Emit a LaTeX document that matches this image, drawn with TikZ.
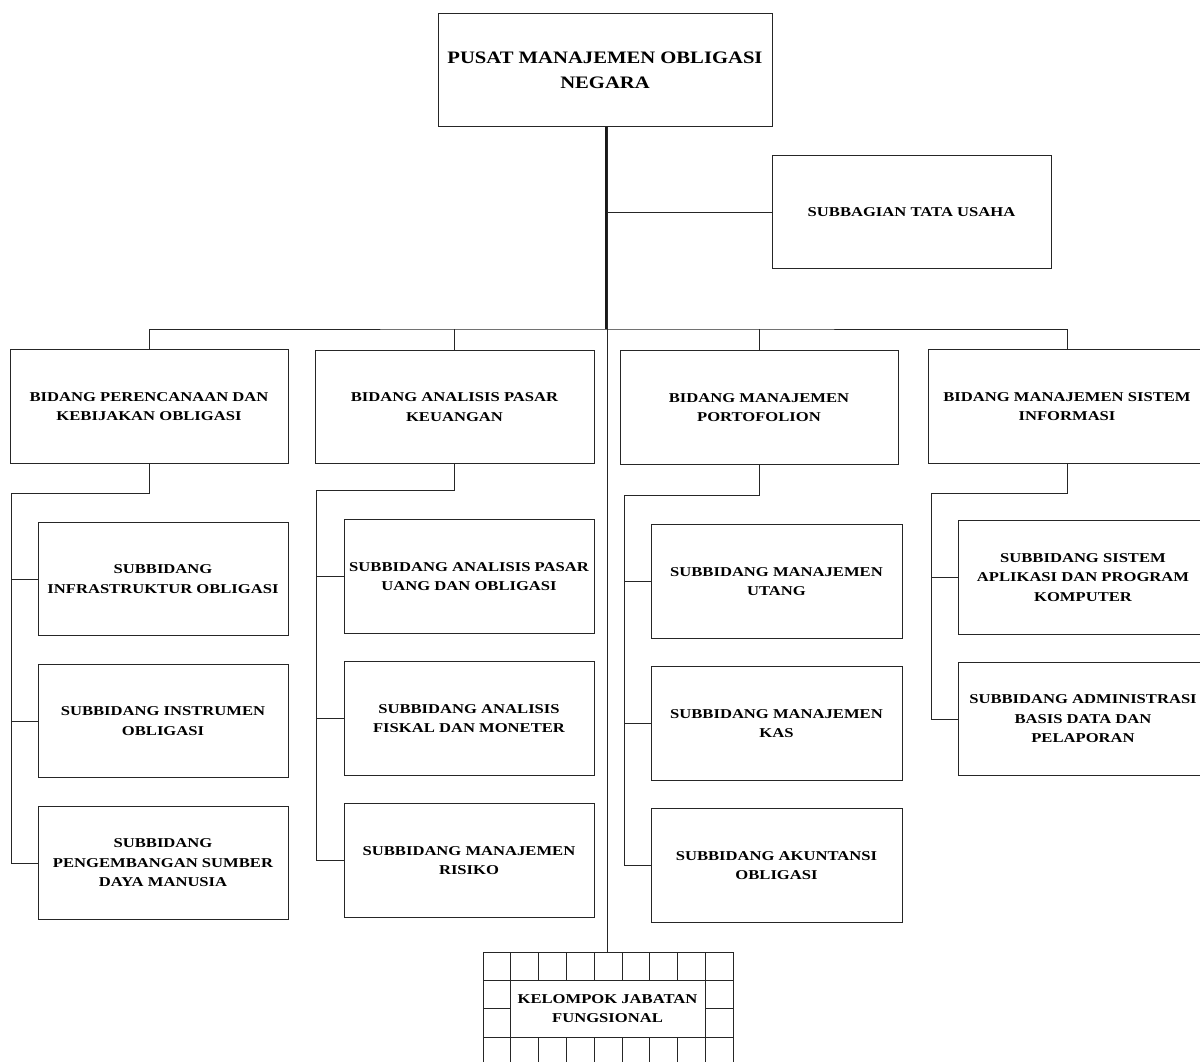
\documentclass[tikz,border=0pt]{standalone}
\usepackage{fontspec}
\newfontfamily\orgfont[FakeStretch=1.23]{Liberation Serif}
\newfontfamily\orgtitlefont[FakeStretch=1.18]{Liberation Serif}
\tikzset{
  orgbox/.style={draw=black!85, line width=0.9pt, rectangle, inner sep=0pt, align=center,
    minimum width=#1, minimum height=113.5,
    font=\orgfont\bfseries\fontsize{13.5}{19.5}\selectfont},
  titlebox/.style={orgbox=334, font=\orgtitlefont\bfseries\fontsize{17.5}{25}\selectfont},
  conn/.style={draw=black!85, line width=0.8pt},
  trunk/.style={draw=black!90, line width=1.4pt},
  gridline/.style={draw=black!85, line width=0.9pt}
}
\begin{document}
\begin{tikzpicture}[x=1pt,y=-1pt]
\useasboundingbox (0,0) rectangle (1200,1061);
\clip (0,0) rectangle (1200,1061);
% top level
\node[titlebox] (top) at (605,70) {PUSAT MANAJEMEN OBLIGASI\\NEGARA};
\node[orgbox=279] (tu) at (911.5,212) {SUBBAGIAN TATA USAHA};
% bidang
\node[orgbox=278] (b1) at (149,406.5) {BIDANG PERENCANAAN DAN\\KEBIJAKAN OBLIGASI};
\node[orgbox=279] (b2) at (454.5,407) {BIDANG ANALISIS PASAR\\KEUANGAN};
\node[orgbox=278] (b3) at (759,407.5) {BIDANG MANAJEMEN\\PORTOFOLION};
\node[orgbox=278] (b4) at (1067,406.5) {BIDANG MANAJEMEN SISTEM\\INFORMASI};
% subbidang column 1
\node[orgbox=250] (s11) at (163,579) {SUBBIDANG\\INFRASTRUKTUR OBLIGASI};
\node[orgbox=250] (s12) at (163,721) {SUBBIDANG INSTRUMEN\\OBLIGASI};
\node[orgbox=250] (s13) at (163,863) {SUBBIDANG\\PENGEMBANGAN SUMBER\\DAYA MANUSIA};
% column 2
\node[orgbox=250] (s21) at (469,576.5) {SUBBIDANG ANALISIS PASAR\\UANG DAN OBLIGASI};
\node[orgbox=250] (s22) at (469,718.5) {SUBBIDANG ANALISIS\\FISKAL DAN MONETER};
\node[orgbox=250] (s23) at (469,860.5) {SUBBIDANG MANAJEMEN\\RISIKO};
% column 3
\node[orgbox=251] (s31) at (776.5,581.5) {SUBBIDANG MANAJEMEN\\UTANG};
\node[orgbox=251] (s32) at (776.5,723.5) {SUBBIDANG MANAJEMEN\\KAS};
\node[orgbox=251] (s33) at (776.5,865.5) {SUBBIDANG AKUNTANSI\\OBLIGASI};
% column 4
\node[orgbox=250] (s41) at (1083,577.5) {SUBBIDANG SISTEM\\APLIKASI DAN PROGRAM\\KOMPUTER};
\node[orgbox=250] (s42) at (1083,719) {SUBBIDANG ADMINISTRASI\\BASIS DATA DAN\\PELAPORAN};
% kelompok jabatan fungsional (grid box)
\node[inner sep=0pt, minimum width=195, minimum height=57, align=center,
  font=\orgfont\bfseries\fontsize{13.5}{19.5}\selectfont] (kjf) at (607.5,1008.5) {KELOMPOK JABATAN\\FUNGSIONAL};
\coordinate (kjftop) at (607,952);
\draw[gridline] (483,952) rectangle (733,1066);
\draw[gridline] (483,980) -- (733,980) (483,1037) -- (733,1037)
  (483,1008) -- (510,1008) (705,1008) -- (733,1008)
  (510,952) -- (510,1066) (705,952) -- (705,1066);
\foreach \gx in {538,566,594,622,649,677} {
  \draw[gridline] (\gx,952) -- (\gx,980) (\gx,1037) -- (\gx,1066);
}
% trunk
\coordinate (bus) at (606,329);
\draw[trunk] (top.south -| bus) -- (bus);
\draw[conn] (607,127) -- (kjftop);
\draw[conn] (607,212) -- (tu.west);
\draw[conn] (b1.north) |- (bus) -| (b4.north);
\draw[conn] (b2.north) -- (b2.north |- bus);
\draw[conn] (b3.north) -- (b3.north |- bus);
% column 1 connectors
\coordinate (c1) at (11,493);
\draw[conn] (b1.south) |- (c1) |- (s13.west);
\draw[conn] (c1 |- s11.west) -- (s11.west);
\draw[conn] (c1 |- s12.west) -- (s12.west);
% column 2
\coordinate (c2) at (316,490);
\draw[conn] (b2.south) |- (c2) |- (s23.west);
\draw[conn] (c2 |- s21.west) -- (s21.west);
\draw[conn] (c2 |- s22.west) -- (s22.west);
% column 3
\coordinate (c3) at (624,495);
\draw[conn] (b3.south) |- (c3) |- (s33.west);
\draw[conn] (c3 |- s31.west) -- (s31.west);
\draw[conn] (c3 |- s32.west) -- (s32.west);
% column 4
\coordinate (c4) at (931,493);
\draw[conn] (b4.south) |- (c4) |- (s42.west);
\draw[conn] (c4 |- s41.west) -- (s41.west);
\end{tikzpicture}
\end{document}
